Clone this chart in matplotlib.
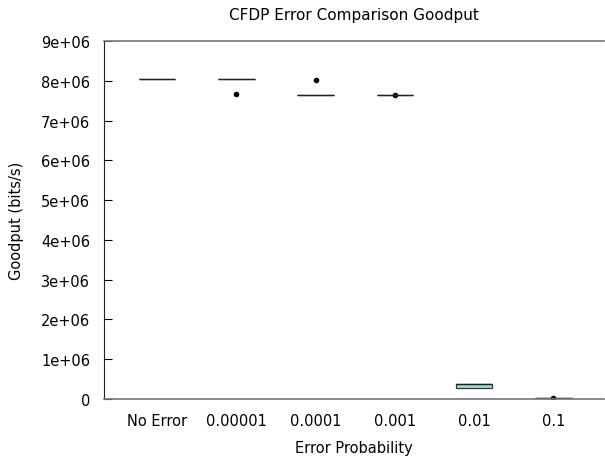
import numpy as np
import matplotlib
matplotlib.use("Agg")
import matplotlib.pyplot as plt

# box statistics (bits/s)
labels = ["No Error", "0.00001", "0.0001", "0.001", "0.01", "0.1"]
q1 = [8.05e6, 8.05e6, 7.64e6, 7.64e6, 0.28e6, 0.02e6]
med = [8.05e6, 8.05e6, 7.64e6, 7.64e6, 0.37e6, 0.02e6]
q3 = [8.05e6, 8.05e6, 7.64e6, 7.64e6, 0.37e6, 0.02e6]
whislo = [8.05e6, 8.05e6, 7.64e6, 7.64e6, 0.28e6, 0.02e6]
whishi = [8.05e6, 8.05e6, 7.64e6, 7.64e6, 0.37e6, 0.02e6]
outliers = [[], [7.66e6], [8.03e6], [7.64e6], [], [0.03e6]]

stats = []
for i, lab in enumerate(labels):
    stats.append(dict(label=lab, q1=q1[i], med=med[i], q3=q3[i],
                      whislo=whislo[i], whishi=whishi[i], fliers=outliers[i]))

fig = plt.figure(figsize=(6.05, 4.6), dpi=100)
ax = fig.add_axes([0.1719, 0.1304, 0.8265, 0.7783])

pos = np.arange(len(labels))
ax.bxp(stats, positions=pos, widths=0.46, patch_artist=True, showcaps=False,
       boxprops=dict(facecolor="#9ee6dc", edgecolor="#333333", linewidth=0.9),
       medianprops=dict(color="#222222", linewidth=1.0),
       whiskerprops=dict(color="#333333", linewidth=1),
       flierprops=dict(marker="o", markerfacecolor="black", markeredgecolor="black",
                       markersize=3, linestyle="none"))

ax.set_xlim(-0.67, 5.64)
ax.set_ylim(0, 9e6)
ax.set_yticks(np.arange(0, 9.1e6, 1e6))
ax.set_yticklabels(["0"] + [f"{k}e+06" for k in range(1, 10)])
ax.set_xticks(pos)
ax.set_xticklabels(labels)

ax.spines["right"].set_visible(False)
for s in ("top", "bottom"):
    ax.spines[s].set_color("#777777")
    ax.spines[s].set_linewidth(1.2)
ax.spines["left"].set_color("#222222")
ax.tick_params(axis="y", direction="in", length=6, labelsize=10.5, pad=10)
ax.tick_params(axis="x", length=0, labelsize=10.5, pad=10)

ax.set_title("CFDP Error Comparison Goodput", fontsize=11, pad=16)
ax.set_xlabel("Error Probability", fontsize=10.5, labelpad=9)
ax.set_ylabel("Goodput (bits/s)", fontsize=10.5, labelpad=12)

fig.savefig("out.png", dpi=100)
